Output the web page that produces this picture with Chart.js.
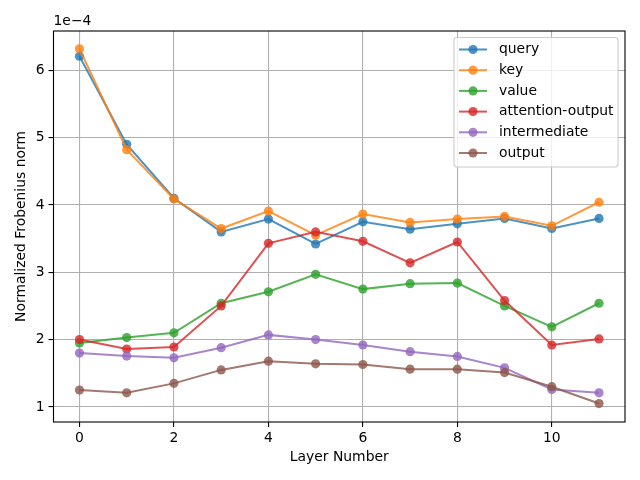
<!DOCTYPE html>
<html>
<head>
<meta charset="utf-8">
<script src="https://cdn.jsdelivr.net/npm/chart.js@4/dist/chart.umd.min.js"></script>
<style>
  html, body { margin: 0; padding: 0; background: #fff; }
  #wrap { width: 640px; height: 480px; }
</style>
</head>
<body>
<div id="wrap"><canvas id="myChart" width="640" height="480"></canvas></div>
<script>
// values are in units of 1e-4 (matches the offset label on the axis)
const layers = [0, 1, 2, 3, 4, 5, 6, 7, 8, 9, 10, 11];
const xTicks = [0, 2, 4, 6, 8, 10];
const yTicks = [1, 2, 3, 4, 5, 6];

const query = [6.21, 4.90, 4.10, 3.60, 3.79, 3.42, 3.75, 3.64, 3.72, 3.80, 3.65, 3.80];
const key = [6.32, 4.82, 4.09, 3.65, 3.91, 3.55, 3.865, 3.74, 3.79, 3.83, 3.69, 4.04];
const value = [1.95, 2.03, 2.10, 2.54, 2.71, 2.97, 2.75, 2.83, 2.84, 2.50, 2.19, 2.54];
const attentionOutput = [2.00, 1.86, 1.89, 2.50, 3.43, 3.60, 3.46, 3.14, 3.45, 2.58, 1.92, 2.01];
const intermediate = [1.80, 1.755, 1.73, 1.88, 2.07, 2.00, 1.92, 1.82, 1.75, 1.58, 1.26, 1.21];
const output = [1.25, 1.21, 1.35, 1.55, 1.68, 1.64, 1.63, 1.56, 1.56, 1.51, 1.30, 1.05];

const seriesNames = ["query", "key", "value", "attention-output", "intermediate", "output"];
const seriesValues = [query, key, value, attentionOutput, intermediate, output];
const seriesColors = [
  "rgba(31,119,180,0.8)",
  "rgba(255,127,14,0.8)",
  "rgba(44,160,44,0.8)",
  "rgba(214,39,40,0.8)",
  "rgba(148,103,189,0.8)",
  "rgba(140,86,75,0.8)",
];

const FONT = "DejaVu Sans";
const FS = 13.9;

let datasets = seriesNames.map((name, i) => ({
  label: name,
  data: layers.map((l, j) => ({ x: l, y: seriesValues[i][j] })),
  borderColor: seriesColors[i],
  backgroundColor: seriesColors[i],
  borderWidth: 2,
  pointRadius: 4.6,
  pointBorderWidth: 0,
  pointHoverRadius: 4.6,
  tension: 0,
  // later series on top, like matplotlib
  order: seriesNames.length - i,
}));

// frame, offset label, axis titles and legend
const decorPlugin = {
  id: "decor",
  afterDraw(chart) {
    const ctx = chart.ctx;
    const a = chart.chartArea;
    ctx.save();
    ctx.strokeStyle = "#000";
    ctx.lineWidth = 1.1;
    ctx.strokeRect(a.left, a.top, a.right - a.left, a.bottom - a.top);

    ctx.fillStyle = "#000";
    ctx.font = FS + "px '" + FONT + "'";
    ctx.textAlign = "left";
    ctx.textBaseline = "alphabetic";
    ctx.fillText("1e\u22124", a.left, a.top - 6);

    ctx.textAlign = "center";
    ctx.textBaseline = "middle";
    ctx.fillText("Layer Number", (a.left + a.right) / 2, 457);

    ctx.save();
    ctx.translate(21, (a.top + a.bottom) / 2);
    ctx.rotate(-Math.PI / 2);
    ctx.fillText("Normalized Frobenius norm", 0, 0);
    ctx.restore();

    // legend box
    const bx = 454, by = 37.5, bw = 164, bh = 129.5, r = 3;
    ctx.beginPath();
    ctx.moveTo(bx + r, by);
    ctx.lineTo(bx + bw - r, by);
    ctx.quadraticCurveTo(bx + bw, by, bx + bw, by + r);
    ctx.lineTo(bx + bw, by + bh - r);
    ctx.quadraticCurveTo(bx + bw, by + bh, bx + bw - r, by + bh);
    ctx.lineTo(bx + r, by + bh);
    ctx.quadraticCurveTo(bx, by + bh, bx, by + bh - r);
    ctx.lineTo(bx, by + r);
    ctx.quadraticCurveTo(bx, by, bx + r, by);
    ctx.closePath();
    ctx.fillStyle = "rgba(255,255,255,0.8)";
    ctx.fill();
    ctx.strokeStyle = "#cccccc";
    ctx.lineWidth = 1.1;
    ctx.stroke();

    chart.data.datasets.forEach((ds, i) => {
      const y = 49.5 + i * 20.7;
      ctx.strokeStyle = ds.borderColor;
      ctx.lineWidth = 2;
      ctx.beginPath();
      ctx.moveTo(459, y);
      ctx.lineTo(487, y);
      ctx.stroke();
      ctx.fillStyle = ds.borderColor;
      ctx.beginPath();
      ctx.arc(473, y, 4.6, 0, Math.PI * 2);
      ctx.fill();
      ctx.fillStyle = "#000";
      ctx.textAlign = "left";
      ctx.textBaseline = "middle";
      ctx.fillText(ds.label, 499, y);
    });
    ctx.restore();
  },
};

new Chart(document.getElementById("myChart"), {
  type: "line",
  data: { datasets: datasets },
  plugins: [decorPlugin],
  options: {
    responsive: false,
    animation: false,
    events: [],
    layout: { padding: { left: 0, right: 15, top: 31, bottom: 0 } },
    plugins: {
      legend: { display: false },
      tooltip: { enabled: false },
    },
    scales: {
      x: {
        type: "linear",
        min: -0.55,
        max: 11.55,
        afterBuildTicks: (scale) => {
          scale.ticks = xTicks.map((v) => ({ value: v }));
        },
        afterFit: (scale) => {
          scale.height = 58;
        },
        ticks: {
          color: "#000",
          font: { family: FONT, size: FS },
          padding: 3,
          maxRotation: 0,
          callback: (v) => String(v),
        },
        grid: {
          color: "#b0b0b0",
          lineWidth: 1.1,
          tickColor: "#000",
          tickLength: 5,
        },
        border: { display: false },
      },
      y: {
        type: "linear",
        min: 0.776,
        max: 6.584,
        afterBuildTicks: (scale) => {
          scale.ticks = yTicks.map((v) => ({ value: v }));
        },
        afterFit: (scale) => {
          scale.width = 53.5;
        },
        ticks: {
          color: "#000",
          font: { family: FONT, size: FS },
          padding: 4,
          callback: (v) => String(v),
        },
        grid: {
          color: "#b0b0b0",
          lineWidth: 1.1,
          tickColor: "#000",
          tickLength: 5,
        },
        border: { display: false },
      },
    },
  },
});
</script>
</body>
</html>
